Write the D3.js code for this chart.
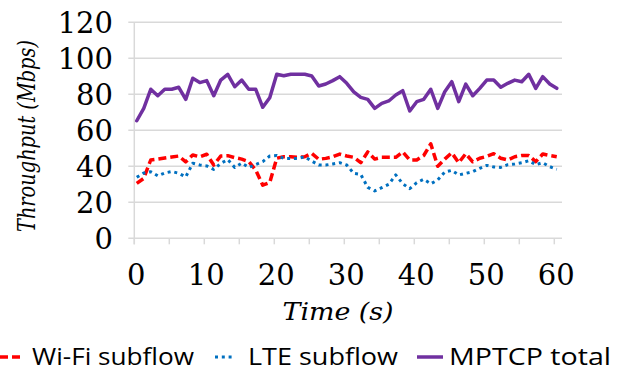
<!DOCTYPE html>
<html>
<head>
<meta charset="utf-8">
<script src="https://cdn.jsdelivr.net/npm/d3@7"></script>
<style>
  html, body { margin: 0; padding: 0; background: #fff; }
  svg { display: block; }
</style>
</head>
<body>
<div id="chart"></div>
<script>
// sample times (s)
const seconds = [0.35, 1.35, 2.35, 3.35, 4.35, 5.35, 6.35, 7.35, 8.35, 9.35,
  10.35, 11.35, 12.35, 13.35, 14.35, 15.35, 16.35, 17.35, 18.35, 19.35,
  20.35, 21.35, 22.35, 23.35, 24.35, 25.35, 26.35, 27.35, 28.35, 29.35,
  30.35, 31.35, 32.35, 33.35, 34.35, 35.35, 36.35, 37.35, 38.35, 39.35,
  40.35, 41.35, 42.35, 43.35, 44.35, 45.35, 46.35, 47.35, 48.35, 49.35,
  50.35, 51.35, 52.35, 53.35, 54.35, 55.35, 56.35, 57.35, 58.35, 59.35, 60.35];

const wifi = [30.5, 33.3, 43.5, 44, 44.6, 45.2, 45.7, 42.5, 46.3, 45.3,
  46.7, 40.7, 45.7, 45.9, 44.8, 44, 42.6, 37.9, 29.5, 31,
  44.5, 45.3, 45.3, 45, 45.3, 47.2, 43.9, 44.4, 45.3, 46.8,
  45.7, 45, 42, 48, 44, 45, 45, 45, 48, 43.5,
  43.5, 46, 52.5, 40, 44, 47.5, 42, 47, 42.5, 44.5,
  45.5, 47, 44.5, 43.5, 45.3, 46, 46, 42.6, 46.8, 46, 45.3];

const lte = [33.9, 36.3, 37, 34.7, 36.3, 37.1, 36.1, 34.1, 41.7, 40.7,
  40.2, 38.3, 41.6, 43.7, 39.4, 41.8, 39.4, 41, 42.6, 45.7,
  46, 44.4, 44.4, 44.4, 45.3, 42.9, 40.7, 40.7, 41.3, 42,
  40.7, 36.1, 35.5, 28.3, 26.3, 28.1, 30, 35.2, 30.3, 27.6,
  30.9, 32.8, 30.3, 32.4, 36.8, 37.7, 35.2, 36.1, 37, 38.9,
  40.5, 39.6, 39.4, 40.9, 41.3, 42, 43.1, 40.9, 42, 39.8, 38.3];

const mptcp = [65.3, 72.2, 82.8, 79.2, 82.8, 82.8, 83.9, 77.2, 88.9, 86.5,
  87.6, 79.2, 87.9, 91.1, 84.2, 87.9, 82.8, 82.8, 72.8, 78.1,
  91.1, 90.3, 91.1, 91.1, 91.1, 90.2, 84.6, 85.7, 87.6, 89.8,
  86.1, 81.4, 78.3, 77.2, 72.2, 75, 76.3, 79.6, 82, 70.7,
  75.9, 77.2, 82.8, 72.2, 81.4, 87, 75.9, 85.7, 79.2, 83.3,
  87.9, 87.9, 83.9, 86.1, 87.9, 87, 91.1, 83.3, 89.8, 85.7, 83.3];

const xTicks = [0, 10, 20, 30, 40, 50, 60];
const xMinor = [0, 5, 10, 15, 20, 25, 30, 35, 40, 45, 50, 55, 60];
const yTicks = [0, 20, 40, 60, 80, 100, 120];

const seriesNames = ['Wi-Fi subflow', 'LTE subflow', 'MPTCP total'];

const width = 619, height = 377;
const plotLeft = 134.3, plotRight = 562, plotTop = 22.3, plotBottom = 238.3;

const svg = d3.select('#chart')
  .append('svg')
  .attr('width', width)
  .attr('height', height);

const x = d3.scaleLinear().domain([0, 60]).range([plotLeft, 554.3]);
const y = d3.scaleLinear().domain([0, 120]).range([plotBottom, plotTop]);

const grid = '#d9d9d9';

// horizontal gridlines
svg.append('g')
  .selectAll('line')
  .data(yTicks)
  .enter()
  .append('line')
  .attr('x1', plotLeft - 6)
  .attr('x2', plotRight)
  .attr('y1', d => y(d))
  .attr('y2', d => y(d))
  .attr('stroke', grid)
  .attr('stroke-width', 1.5);

// left axis line
svg.append('line')
  .attr('x1', plotLeft).attr('x2', plotLeft)
  .attr('y1', plotTop).attr('y2', plotBottom + 6)
  .attr('stroke', grid)
  .attr('stroke-width', 1.5);

// x ticks
svg.append('g')
  .selectAll('line')
  .data(xMinor)
  .enter()
  .append('line')
  .attr('x1', d => x(d)).attr('x2', d => x(d))
  .attr('y1', plotBottom).attr('y2', plotBottom + 6)
  .attr('stroke', grid)
  .attr('stroke-width', 1.5);

const serif = 'DejaVu Serif, serif';

svg.append('g')
  .selectAll('text')
  .data(yTicks)
  .enter()
  .append('text')
  .attr('x', 113)
  .attr('y', d => y(d))
  .attr('dy', '0.36em')
  .attr('text-anchor', 'end')
  .attr('font-family', serif)
  .attr('font-size', 29)
  .text(d => d);

svg.append('g')
  .selectAll('text')
  .data(xTicks)
  .enter()
  .append('text')
  .attr('x', d => x(d) + 2)
  .attr('y', 285)
  .attr('text-anchor', 'middle')
  .attr('font-family', serif)
  .attr('font-size', 29)
  .text(d => d);

svg.append('text')
  .attr('x', 338)
  .attr('y', 320)
  .attr('text-anchor', 'middle')
  .attr('textLength', 111)
  .attr('lengthAdjust', 'spacingAndGlyphs')
  .attr('font-family', serif)
  .attr('font-style', 'italic')
  .attr('font-size', 25)
  .text('Time (s)');

svg.append('text')
  .attr('transform', 'translate(35,136) rotate(-90)')
  .attr('text-anchor', 'middle')
  .attr('textLength', 192)
  .attr('lengthAdjust', 'spacingAndGlyphs')
  .attr('font-family', serif)
  .attr('font-style', 'italic')
  .attr('font-size', 24)
  .text('Throughput (Mbps)');

// lines
const styles = [
  { data: wifi, color: '#ff0000', width: 3.5, dash: '8,4', cap: 'butt' },
  { data: lte, color: '#0070c0', width: 3, dash: '3,3.8', cap: 'butt' },
  { data: mptcp, color: '#7030a0', width: 3.5, dash: null, cap: 'round' }
];

const line = d3.line()
  .x((d, i) => x(seconds[i]))
  .y(d => y(d));

styles.forEach(s => {
  svg.append('path')
    .datum(s.data)
    .attr('d', line)
    .attr('fill', 'none')
    .attr('stroke', s.color)
    .attr('stroke-width', s.width)
    .attr('stroke-linejoin', 'round')
    .attr('stroke-linecap', s.cap)
    .attr('stroke-dasharray', s.dash);
});

// legend
const legendX = [[0, 22, 32, 162], [215, 233, 248, 150], [417, 443, 449, 162]];
const legendY = 357;
const leg = svg.append('g');
styles.forEach((s, i) => {
  const p = legendX[i];
  leg.append('line')
    .attr('x1', p[0]).attr('x2', p[1])
    .attr('y1', legendY).attr('y2', legendY)
    .attr('stroke', s.color)
    .attr('stroke-width', s.width)
    .attr('stroke-dasharray', s.dash);
  leg.append('text')
    .attr('x', p[2])
    .attr('y', legendY)
    .attr('dy', '0.36em')
    .attr('textLength', p[3])
    .attr('lengthAdjust', 'spacingAndGlyphs')
    .attr('font-family', 'Open Sans, sans-serif')
    .attr('font-size', 23)
    .text(seriesNames[i]);
});
</script>
</body>
</html>
